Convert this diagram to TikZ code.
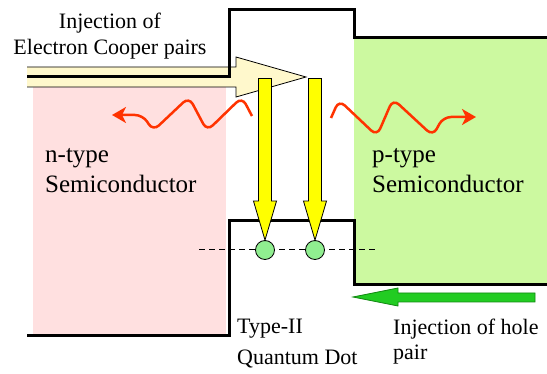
\documentclass[tikz,border=0pt]{standalone}
\usepackage{fontspec}
\setmainfont{Liberation Serif}
\newfontfamily\labelfont{Liberation Serif}
\usetikzlibrary{arrows.meta}
\definecolor{npink}{HTML}{FFE0E0}
\definecolor{pgreen}{HTML}{CCF9A0}
\definecolor{cooperfill}{HTML}{FFF8CC}
\definecolor{qyellow}{HTML}{FFFF00}
\definecolor{qdotfill}{HTML}{90EE90}
\definecolor{holefill}{HTML}{22CC22}
\definecolor{holeedge}{HTML}{118811}
\definecolor{wavered}{HTML}{FF3300}
\tikzset{
  band/.style={line width=3pt, black, line join=miter},
  blockarr/.style={draw=black, line width=0.8pt, line join=miter},
  yarr/.style={blockarr, fill=qyellow},
  qdot/.style={circle, draw=black, line width=0.8pt, fill=qdotfill,
               minimum size=19pt, inner sep=0pt},
  wave/.style={wavered, line width=2.5pt, rounded corners=8pt,
               -{Stealth[length=14pt, width=16pt, inset=4pt]}},
  biglbl/.style={font=\labelfont\fontsize{25}{30}\selectfont, inner sep=0pt},
  lbl/.style={font=\labelfont\fontsize{22}{26}\selectfont, inner sep=0pt},
}

\begin{document}
\begin{tikzpicture}[x=1pt, y=-1pt]
  \useasboundingbox (0,0) rectangle (547,374);

  % n- and p-type regions
  \fill[npink] (33,87) rectangle (226,336);
  \fill[pgreen] (354,38) rectangle (547,285);

  % Electron Cooper pair injection arrow
  \filldraw[blockarr, fill=cooperfill] (27,67) -- (236,67) -- (236,57)
    -- (306,77) -- (236,97) -- (236,87) -- (27,87);

  % Band edges
  \draw[band] (27,77) -- (229,77) -- (229,10) -- (354,10) -- (354,38) -- (547,38);
  \draw[band] (27,336) -- (229,336) -- (229,221) -- (354,221) -- (354,285) -- (547,285);

  % Quantum dot level
  \draw[black, line width=0.8pt, dash pattern=on 6pt off 4pt] (199,249) -- (377,249);
  \node[qdot] (qd1) at (265,250) {};
  \node[qdot] (qd2) at (315,250) {};

  % Yellow arrows into the dots
  \draw[yarr] (qd1.north) -- ++(-11.5,-39) -- ++(5,0) -- ++(0,-122.5)
    -- ++(13,0) -- ++(0,122.5) -- ++(5,0) -- cycle;
  \draw[yarr] (qd2.north) -- ++(-11.5,-39) -- ++(5,0) -- ++(0,-122.5)
    -- ++(13,0) -- ++(0,122.5) -- ++(5,0) -- cycle;

  % Hole pair injection arrow
  \filldraw[blockarr, draw=holeedge, fill=holefill] (535,293) -- (398,293)
    -- (398,288) -- (353,297) -- (398,306) -- (398,302) -- (535,302) -- cycle;

  % Emitted waves
  \draw[wave] (252,116) -- (242,97) -- (207,131) -- (189,97) -- (153,131)
    -- (143,115) -- (112,115);
  \draw[wave] (331,118) -- (339,100) -- (377,136) -- (393,99) -- (433,136)
    -- (443,117) -- (476,117);

  % Labels
  \node[lbl, anchor=base] (inj1) at (110,29) {Injection of};
  \node[lbl, anchor=base] (inj2) at (110,55) {Electron Cooper pairs};
  \node[biglbl, anchor=base west] (ntype) at (45,163) {n-type};
  \node[biglbl, anchor=base west] (nsemi) at (45,193) {Semiconductor};
  \node[biglbl, anchor=base west] (ptype) at (372,163) {p-type};
  \node[biglbl, anchor=base west] (psemi) at (372,193) {Semiconductor};
  \node[lbl, anchor=base west] (qdlbl1) at (237,334) {Type-II};
  \node[lbl, anchor=base west] (qdlbl2) at (237,365) {Quantum Dot};
  \node[lbl, anchor=base west] (hole1) at (393,335) {Injection of hole};
  \node[lbl, anchor=base west] (hole2) at (393,360) {pair};

\end{tikzpicture}
\end{document}
